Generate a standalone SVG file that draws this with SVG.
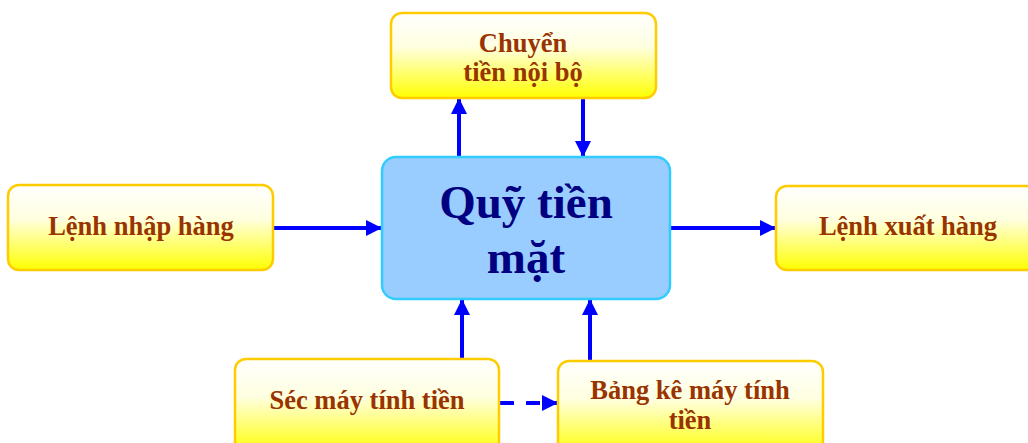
<svg xmlns="http://www.w3.org/2000/svg" width="1028" height="443" viewBox="0 0 1028 443">
<defs>
<linearGradient id="yg" x1="0" y1="0" x2="0" y2="1">
<stop offset="0" stop-color="#ffffff"/>
<stop offset="0.4" stop-color="#ffffe0"/>
<stop offset="1" stop-color="#ffff00"/>
</linearGradient>
<marker id="ah" viewBox="0 0 16 16" refX="16" refY="8" markerWidth="16" markerHeight="16" markerUnits="userSpaceOnUse" orient="auto">
<path d="M0,0 L16,8 L0,16 Z" fill="#0000ff"/>
</marker>
<style>
.box{fill:url(#yg);stroke:#ffcc00;stroke-width:2.5}
.lbl{font-family:"Liberation Serif","Times New Roman",serif;font-weight:bold;font-size:26.5px;fill:#993300;text-anchor:middle}
.ctr{fill:#99ccff;stroke:#33ccff;stroke-width:2.5}
.big{font-family:"Liberation Serif","Times New Roman",serif;font-weight:bold;font-size:47px;fill:#000080;text-anchor:middle}
.c{stroke:#0000ff;stroke-width:4;fill:none;marker-end:url(#ah)}
.d{stroke-dasharray:14 12}
</style>
</defs>
<rect width="1028" height="443" fill="#ffffff"/>
<g id="connectors">
<line class="c" x1="459" y1="157" x2="459" y2="98"/>
<line class="c" x1="583" y1="98" x2="583" y2="157"/>
<line class="c" x1="273" y1="228" x2="382" y2="228"/>
<line class="c" x1="670" y1="228" x2="776" y2="228"/>
<line class="c" x1="462" y1="359" x2="462" y2="299"/>
<line class="c" x1="590" y1="361" x2="590" y2="299"/>
<line class="c d" x1="500" y1="403" x2="558" y2="403"/>
</g>
<g id="n-chuyen">
<rect class="box" x="391" y="13" width="265" height="85" rx="11"/>
<text class="lbl" x="523" y="52">Chuyển</text>
<text class="lbl" x="523" y="81">tiền nội bộ</text>
</g>
<g id="n-nhap">
<rect class="box" x="8" y="185" width="265" height="85" rx="11"/>
<text class="lbl" x="141" y="235">Lệnh nhập hàng</text>
</g>
<g id="n-quy">
<rect class="ctr" x="382" y="157" width="288" height="142" rx="14"/>
<text class="big" x="526" y="218">Quỹ tiền</text>
<text class="big" x="526" y="273">mặt</text>
</g>
<g id="n-xuat">
<rect class="box" x="776" y="186" width="265" height="84" rx="11"/>
<text class="lbl" x="908" y="235">Lệnh xuất hàng</text>
</g>
<g id="n-sec">
<rect class="box" x="235" y="359" width="264" height="95" rx="11"/>
<text class="lbl" x="367" y="409">Séc máy tính tiền</text>
</g>
<g id="n-bangke">
<rect class="box" x="558" y="361" width="265" height="95" rx="11"/>
<text class="lbl" x="690" y="399">Bảng kê máy tính</text>
<text class="lbl" x="690" y="429">tiền</text>
</g>
</svg>
